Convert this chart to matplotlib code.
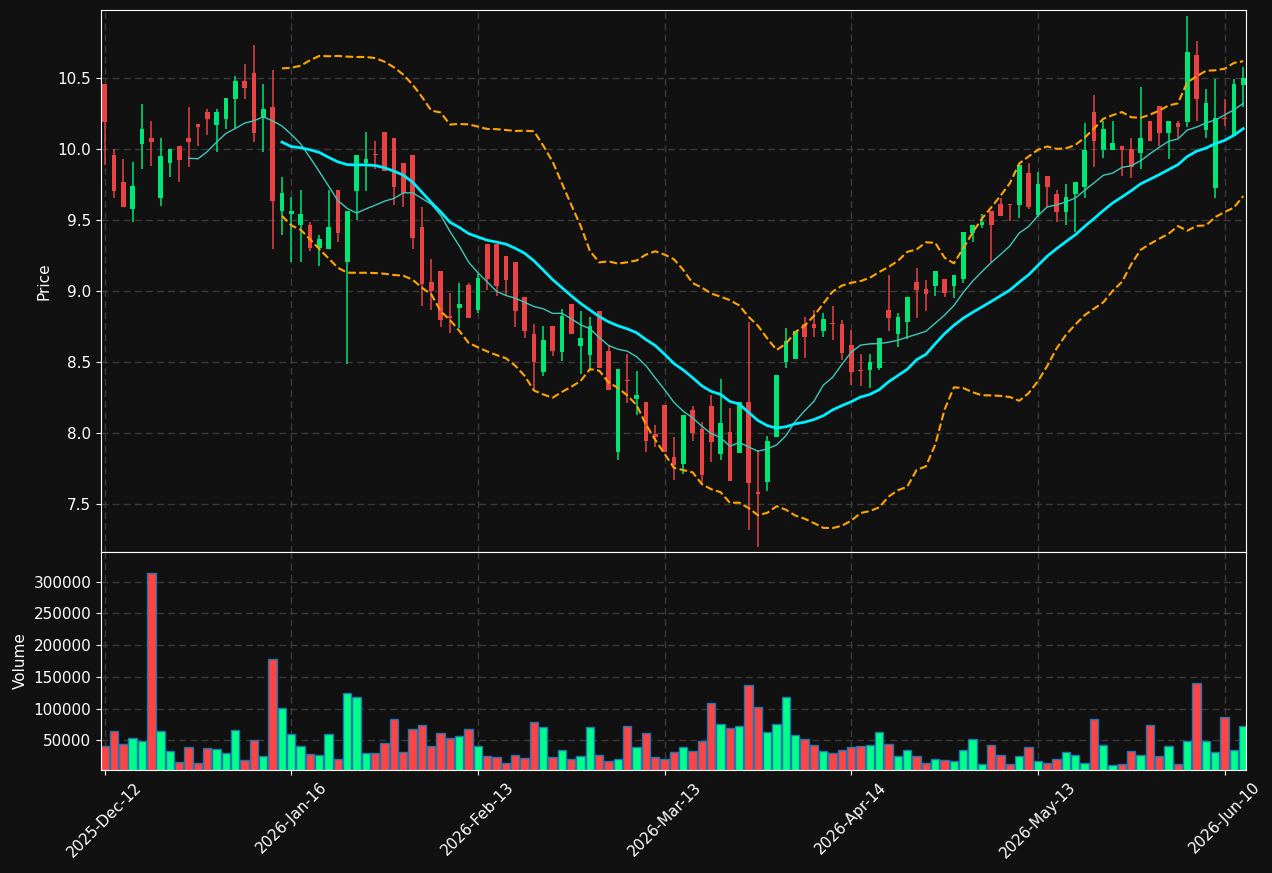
import numpy as np
import pandas as pd
import matplotlib
matplotlib.use("Agg")
import matplotlib.pyplot as plt

# daily OHLC values
opens = [10.46, 9.96, 9.77, 9.581, 10.039, 10.081, 9.66, 9.907, 10.024, 10.081,
         10.179, 10.264, 10.174, 10.215, 10.357, 10.482, 10.539, 10.22, 10.299, 9.569,
         9.547, 9.464, 9.466, 9.307, 9.295, 9.714, 9.209, 9.709, 9.902, 9.963,
         10.122, 10.081, 9.905, 9.961, 9.454, 9.065, 9.143, 8.82, 8.883, 9.045,
         8.871, 9.334, 9.334, 9.248, 9.207, 8.959, 8.70, 8.433, 8.756, 8.575,
         8.911, 8.617, 8.553, 8.861, 8.58, 7.87, 8.37, 8.244, 8.22, 7.997,
         8.20, 7.833, 7.786, 8.164, 8.031, 8.195, 7.855, 8.009, 7.859, 8.22,
         7.585, 7.659, 7.97, 8.504, 8.526, 8.771, 8.771, 8.717, 8.772, 8.771,
         8.621, 8.44, 8.448, 8.46, 8.869, 8.702, 8.786, 9.065, 9.016, 9.04,
         9.087, 9.04, 9.089, 9.412, 9.464, 9.567, 9.616, 9.612, 9.61, 9.833,
         9.54, 9.811, 9.687, 9.562, 9.689, 9.738, 10.264, 9.998, 9.998, 10.024,
         10.002, 9.978, 10.198, 10.306, 10.118, 10.186, 10.196, 10.666, 10.14, 9.731,
         10.22, 10.095, 10.453]
highs = [10.46, 10.0, 9.929, 9.912, 10.321, 10.198, 10.078, 10.0, 10.024, 10.296,
         10.179, 10.284, 10.284, 10.362, 10.517, 10.602, 10.739, 10.46, 10.558, 9.807,
         9.665, 9.711, 9.49, 9.40, 9.711, 9.714, 9.567, 9.961, 10.12, 10.056,
         10.122, 10.081, 9.905, 9.961, 9.591, 9.226, 9.143, 8.986, 9.062, 9.062,
         9.121, 9.334, 9.334, 9.248, 9.207, 8.959, 8.773, 8.754, 8.756, 8.876,
         8.911, 8.861, 8.817, 8.861, 8.619, 8.452, 8.558, 8.435, 8.22, 8.056,
         8.20, 7.975, 8.129, 8.19, 8.078, 8.269, 8.379, 8.178, 8.22, 8.785,
         7.882, 7.977, 8.411, 8.741, 8.72, 8.817, 8.866, 8.844, 8.896, 8.795,
         8.729, 8.558, 8.555, 8.67, 9.114, 8.844, 8.959, 9.165, 9.079, 9.143,
         9.087, 9.116, 9.417, 9.464, 9.542, 9.567, 9.66, 9.612, 9.89, 9.905,
         9.841, 9.811, 9.711, 9.753, 9.77, 10.186, 10.382, 10.198, 10.198, 10.024,
         10.078, 10.443, 10.198, 10.306, 10.198, 10.198, 10.938, 10.761, 10.424, 10.495,
         10.357, 10.497, 10.578]
lows = [9.887, 9.655, 9.596, 9.486, 9.86, 9.88, 9.598, 9.804, 9.767, 9.873,
        10.022, 10.10, 9.98, 10.144, 10.149, 10.357, 10.054, 9.98, 9.30, 9.40,
        9.207, 9.207, 9.283, 9.175, 9.295, 9.346, 8.487, 9.50, 9.709, 9.86,
        9.851, 9.611, 9.596, 9.30, 8.893, 8.866, 8.751, 8.705, 8.739, 8.815,
        8.844, 9.006, 8.969, 8.969, 8.751, 8.668, 8.313, 8.401, 8.546, 8.509,
        8.702, 8.416, 8.435, 8.462, 8.308, 7.809, 8.21, 8.129, 7.87, 7.903,
        7.87, 7.671, 7.713, 7.945, 7.652, 7.80, 7.812, 7.663, 7.859, 7.315,
        7.199, 7.591, 7.97, 8.46, 8.526, 8.528, 8.676, 8.676, 8.656, 8.514,
        8.342, 8.331, 8.318, 8.448, 8.717, 8.607, 8.662, 8.815, 8.864, 8.969,
        8.962, 8.955, 9.062, 9.346, 9.444, 9.20, 9.532, 9.496, 9.52, 9.581,
        9.525, 9.596, 9.486, 9.464, 9.415, 9.66, 9.873, 9.941, 9.998, 9.811,
        9.80, 9.86, 10.061, 10.022, 9.929, 10.081, 10.159, 10.198, 10.078, 9.66,
        10.162, 10.095, 10.30]
closes = [10.196, 9.709, 9.596, 9.743, 10.144, 10.054, 9.953, 10.0, 9.927, 10.054,
          10.159, 10.215, 10.264, 10.362, 10.482, 10.436, 10.118, 10.284, 9.638, 9.691,
          9.569, 9.545, 9.307, 9.368, 9.454, 9.412, 9.567, 9.961, 9.931, 9.957,
          9.851, 9.738, 9.696, 9.376, 9.055, 9.003, 8.80, 8.815, 8.91, 8.815,
          9.094, 9.089, 9.04, 9.082, 8.864, 8.717, 8.50, 8.658, 8.582, 8.827,
          8.702, 8.67, 8.756, 8.462, 8.308, 8.452, 8.365, 8.269, 7.945, 7.97,
          7.87, 7.779, 8.129, 8.0, 7.708, 7.94, 8.074, 7.663, 8.22, 7.648,
          7.57, 7.942, 8.411, 8.651, 8.72, 8.68, 8.741, 8.805, 8.768, 8.568,
          8.428, 8.435, 8.501, 8.67, 8.815, 8.82, 8.959, 9.006, 8.981, 9.143,
          8.991, 9.116, 9.417, 9.464, 9.486, 9.464, 9.532, 9.608, 9.89, 9.596,
          9.753, 9.738, 9.562, 9.665, 9.77, 9.995, 10.061, 10.144, 10.044, 9.998,
          9.873, 10.081, 10.061, 10.118, 10.198, 10.159, 10.686, 10.357, 10.326, 10.218,
          10.215, 10.46, 10.502]
volumes = [40450, 64090, 43600, 53060, 48850, 313080, 64090, 32570, 15230, 38870,
           14180, 37300, 35720, 29940, 65660, 18910, 49900, 24690, 178080, 100330,
           59360, 40450, 27840, 26270, 59360, 19960, 123970, 117670, 29420, 29420,
           45180, 83000, 30990, 67240, 73540, 40450, 60930, 53060, 56210, 67240,
           40450, 24690, 23110, 13660, 26270, 21540, 78270, 70390, 23110, 34140,
           19960, 24690, 70390, 26270, 16810, 19960, 71970, 38870, 60930, 23110,
           19960, 30990, 38870, 32570, 48330, 108210, 75120, 68810, 71970, 136580,
           101910, 62510, 75120, 117670, 57780, 51480, 42020, 32570, 29420, 34140,
           38870, 40450, 42020, 62510, 43600, 24690, 34140, 24690, 13660, 19960,
           18390, 16810, 34140, 51480, 12080, 42020, 26270, 12080, 24690, 38870,
           16810, 13660, 19960, 30990, 26270, 13660, 83000, 42020, 10510, 12080,
           32570, 26270, 73540, 24690, 40450, 12080, 48330, 139730, 48330, 30990,
           86150, 34140, 71970]
tick_pos = [0, 20, 40, 60, 80, 100, 120]
tick_labels = ["2025-Dec-12", "2026-Jan-16", "2026-Feb-13", "2026-Mar-13",
               "2026-Apr-14", "2026-May-13", "2026-Jun-10"]

df = pd.DataFrame({"open": opens, "high": highs, "low": lows,
                   "close": closes, "volume": volumes})
x = np.arange(len(df))
up = (df["close"] >= df["open"]).to_numpy()

# moving averages and bollinger bands
ma10 = df["close"].rolling(10).mean()
ma20 = df["close"].rolling(20).mean()
sd20 = df["close"].rolling(20).std(ddof=0)
upper = ma20 + 2 * sd20
lower = ma20 - 2 * sd20

bg = "#111111"
plt.rcParams["font.size"] = 11

fig = plt.figure(figsize=(12.72, 8.73), dpi=100, facecolor=bg)
ax = fig.add_axes([0.0794, 0.3677, 0.9002, 0.6208])
axv = fig.add_axes([0.0794, 0.118, 0.9002, 0.2497], sharex=ax)

for a in (ax, axv):
    a.set_facecolor(bg)
    for s in a.spines.values():
        s.set_color("white")
    a.tick_params(colors="white", labelsize=11)
    a.grid(True, color="#3a3a3a", linestyle=(0, (5, 3)), linewidth=1)
    a.set_axisbelow(True)

# candles
ccols = np.where(up, "#00e676", "#e84242")
ax.vlines(x, df["low"], df["high"], colors=ccols, linewidth=1.1)
body = np.maximum((df["close"] - df["open"]).abs(), 0.008)
ax.bar(x, body, bottom=np.minimum(df["open"], df["close"]), width=0.5,
       color=ccols, linewidth=0)

# overlays
ax.plot(x, ma10, color="#3cc8bc", linewidth=1)
ax.plot(x, ma20, color="#00eeff", linewidth=2)
ax.plot(x, upper, color="orange", linestyle="--", linewidth=1.5)
ax.plot(x, lower, color="orange", linestyle="--", linewidth=1.5)

ax.set_ylim(7.163, 10.982)
ax.set_xlim(-0.39, 122.3)
ax.set_ylabel("Price", color="white")
ax.tick_params(labelbottom=False)

# volume
vcols = np.where(up, "#00ff88", "#ff4444")
axv.bar(x, df["volume"], width=0.9, color=vcols, edgecolor="#1f77b4", linewidth=1)
axv.set_ylim(3150, 346800)
axv.ticklabel_format(axis="y", style="plain", useOffset=False)
axv.set_ylabel("Volume", color="white")
axv.set_xticks(tick_pos)
axv.set_xticklabels(tick_labels, rotation=45)
ax.set_xticks(tick_pos)

fig.savefig("out.png", facecolor=bg)
